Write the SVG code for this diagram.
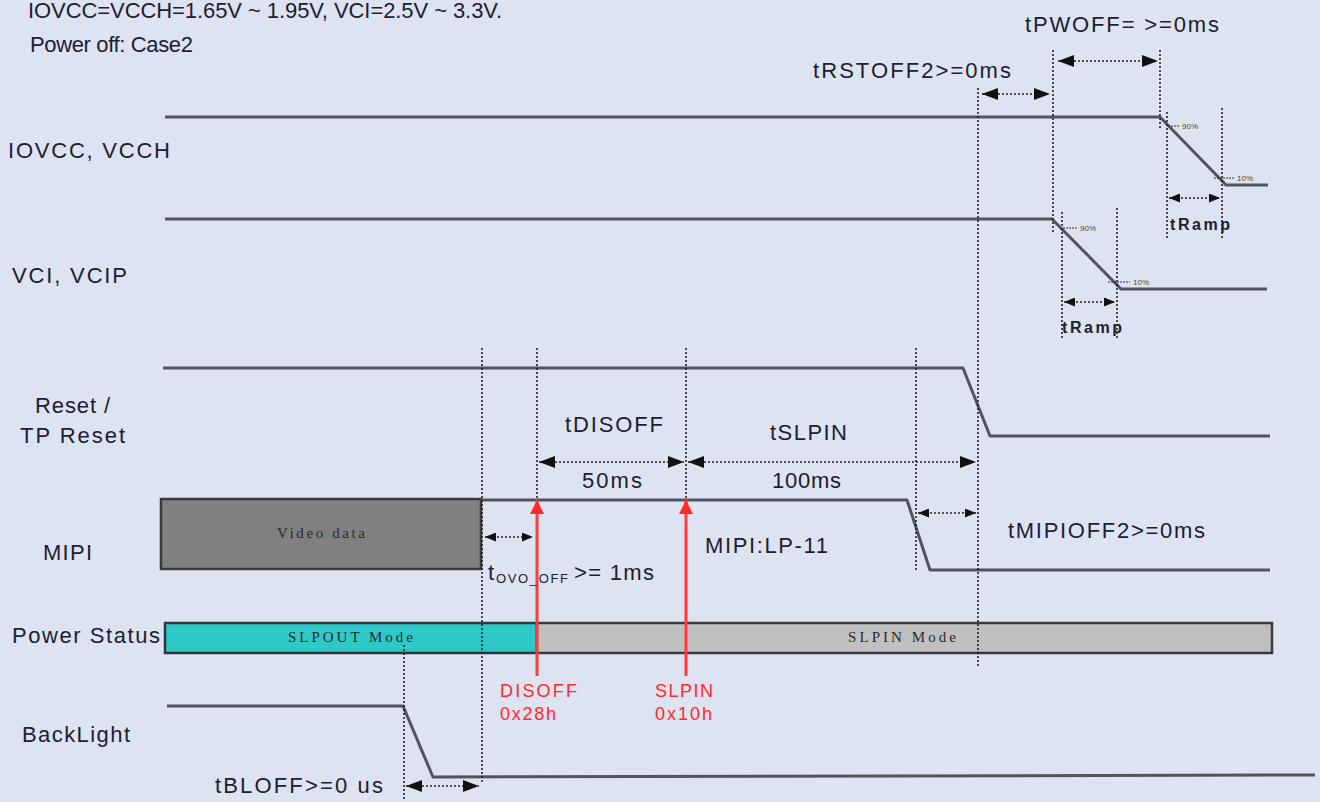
<svg xmlns="http://www.w3.org/2000/svg" width="1320" height="802" viewBox="0 0 1320 802">
<defs>
<style>
.bg{fill:#dde3f0}
.t{font-family:"Liberation Sans",Arial,sans-serif;font-size:22px;fill:#1c2030}
.s{font-family:"Liberation Serif","Times New Roman",serif;font-size:15px;fill:#2a2a2a}
.r{font-family:"Liberation Sans",Arial,sans-serif;font-size:18px;fill:#ff2a2a}
.tr{font-family:"Liberation Sans",Arial,sans-serif;font-size:16px;font-weight:bold;fill:#1c2030}
.pc{font-family:"Liberation Sans",Arial,sans-serif;font-size:8px;fill:#5a4a20}
.sig{fill:none;stroke:#50545c;stroke-width:3;stroke-linejoin:round}
.dot{fill:none;stroke:#222;stroke-width:1.6;stroke-dasharray:2 2}
.arr{fill:none;stroke:#222;stroke-width:1.6;stroke-dasharray:2 2;marker-start:url(#ah);marker-end:url(#ah)}
.arrs{fill:none;stroke:#222;stroke-width:1.4;stroke-dasharray:2 2;marker-start:url(#ahs);marker-end:url(#ahs)}
.red{fill:none;stroke:#ff3b3b;stroke-width:3;marker-end:url(#rh)}
.tick{fill:none;stroke:#333;stroke-width:1;stroke-dasharray:2 1}
</style>
<marker id="ah" viewBox="0 0 16 12" refX="16" refY="6" markerWidth="16" markerHeight="12" markerUnits="userSpaceOnUse" orient="auto-start-reverse">
<path d="M0,0 L16,6 L0,12 z" fill="#111"/>
</marker>
<marker id="ahs" viewBox="0 0 11 9" refX="11" refY="4.5" markerWidth="11" markerHeight="9" markerUnits="userSpaceOnUse" orient="auto-start-reverse">
<path d="M0,0 L11,4.5 L0,9 z" fill="#111"/>
</marker>
<marker id="rh" viewBox="0 0 14 14" refX="14" refY="7" markerWidth="14" markerHeight="14" markerUnits="userSpaceOnUse" orient="auto">
<path d="M0,0 L14,7 L0,14 z" fill="#ff2a2a"/>
</marker>
</defs>
<rect class="bg" x="0" y="0" width="1320" height="802"/>

<g id="header">
<text class="t" x="28" y="18" font-size="19" textLength="474">IOVCC=VCCH=1.65V ~ 1.95V, VCI=2.5V ~ 3.3V.</text>
<text class="t" x="30" y="52" font-size="20" textLength="163">Power off: Case2</text>
</g>

<g id="iovcc">
<text class="t" x="8" y="158" textLength="162">IOVCC, VCCH</text>
<polyline class="sig" points="165,117 1160,117 1226,185 1268,185"/>
<line class="tick" x1="1168" y1="126" x2="1180" y2="126"/>
<text class="pc" x="1182" y="129">90%</text>
<line class="tick" x1="1214" y1="178" x2="1234" y2="178"/>
<text class="pc" x="1237" y="181">10%</text>
<text class="tr" x="1170" y="230" textLength="60">tRamp</text>
</g>

<g id="vci">
<text class="t" x="12" y="283" textLength="115">VCI, VCIP</text>
<polyline class="sig" points="165,219 1052,219 1121,289 1267,289"/>
<line class="tick" x1="1063" y1="228" x2="1078" y2="228"/>
<text class="pc" x="1080" y="231">90%</text>
<line class="tick" x1="1108" y1="282" x2="1130" y2="282"/>
<text class="pc" x="1133" y="285">10%</text>
<text class="tr" x="1062" y="333" textLength="60">tRamp</text>
</g>

<g id="reset">
<text class="t" x="35" y="413" textLength="75">Reset /</text>
<text class="t" x="20" y="443" textLength="105">TP Reset</text>
<polyline class="sig" points="163,368 963,368 990,436 1270,436"/>
</g>

<g id="mipi">
<text class="t" x="43" y="560" textLength="49">MIPI</text>
<rect x="161" y="499" width="320" height="70" fill="#808080" stroke="#3a3a3a" stroke-width="2.5"/>
<text class="s" x="277" y="538" fill="#333" textLength="88">Video data</text>
<polyline class="sig" points="481,500 907,500 930,570 1270,570"/>
<text class="t" x="705" y="553" textLength="123">MIPI:LP-11</text>
</g>

<g id="power-status">
<text class="t" x="12" y="643" textLength="148">Power Status</text>
<rect x="165" y="623" width="372" height="30" fill="#2ec8c8" stroke="#2a3a3a" stroke-width="2.5"/>
<rect x="537" y="623" width="735" height="30" fill="#c0c0c0" stroke="#3a3a3a" stroke-width="2.5"/>
<text class="s" x="288" y="642" textLength="125">SLPOUT Mode</text>
<text class="s" x="848" y="642" textLength="108">SLPIN Mode</text>
</g>

<g id="backlight">
<text class="t" x="22" y="742" textLength="108">BackLight</text>
<polyline class="sig" points="167,706 403,706 433,777 1315,775"/>
</g>

<g id="commands">
<text class="r" x="500" y="697" textLength="77">DISOFF</text>
<text class="r" x="500" y="720" textLength="56">0x28h</text>
<text class="r" x="655" y="697" textLength="58">SLPIN</text>
<text class="r" x="655" y="720" textLength="57">0x10h</text>
</g>

<g id="connectors">
<line class="dot" x1="978" y1="88" x2="978" y2="666"/>
<line class="dot" x1="1053" y1="50" x2="1053" y2="232"/>
<line class="dot" x1="1160" y1="50" x2="1160" y2="128"/>
<line class="dot" x1="1167" y1="112" x2="1167" y2="238"/>
<line class="dot" x1="1222" y1="108" x2="1222" y2="238"/>
<line class="dot" x1="1062" y1="212" x2="1062" y2="338"/>
<line class="dot" x1="1117" y1="208" x2="1117" y2="338"/>
<line class="dot" x1="482" y1="348" x2="482" y2="783"/>
<line class="dot" x1="537" y1="348" x2="537" y2="500"/>
<line class="dot" x1="686" y1="348" x2="686" y2="500"/>
<line class="dot" x1="916" y1="348" x2="916" y2="570"/>
<line class="dot" x1="404" y1="645" x2="404" y2="800"/>

<line class="arr" x1="1058" y1="61" x2="1158" y2="61"/>
<line class="arr" x1="982" y1="94" x2="1050" y2="94"/>
<line class="arrs" x1="1169" y1="198" x2="1220" y2="198"/>
<line class="arrs" x1="1064" y1="302" x2="1115" y2="302"/>
<line class="arr" x1="539" y1="462" x2="684" y2="462"/>
<line class="arr" x1="688" y1="462" x2="976" y2="462"/>
<line class="arrs" x1="918" y1="513" x2="976" y2="513"/>
<line class="arrs" x1="485" y1="537" x2="533" y2="537"/>
<line class="arr" x1="406" y1="786" x2="479" y2="786"/>

<line class="red" x1="537" y1="676" x2="537" y2="500"/>
<line class="red" x1="686" y1="676" x2="686" y2="500"/>
</g>

<g id="timing-labels">
<text class="t" x="1025" y="32" textLength="194">tPWOFF= &gt;=0ms</text>
<text class="t" x="813" y="78" textLength="198">tRSTOFF2&gt;=0ms</text>
<text class="t" x="565" y="432" textLength="98">tDISOFF</text>
<text class="t" x="770" y="440" textLength="77">tSLPIN</text>
<text class="t" x="582" y="488" textLength="60">50ms</text>
<text class="t" x="772" y="488" textLength="69">100ms</text>
<text class="t" x="1008" y="538" textLength="197">tMIPIOFF2&gt;=0ms</text>
<text class="t" x="488" y="580">t<tspan font-size="13" dy="3" x="496" textLength="72">OVO_OFF</tspan><tspan dy="-3" x="574" textLength="80">&gt;= 1ms</tspan></text>
<text class="t" x="215" y="793" textLength="168">tBLOFF&gt;=0 us</text>
</g>
</svg>
